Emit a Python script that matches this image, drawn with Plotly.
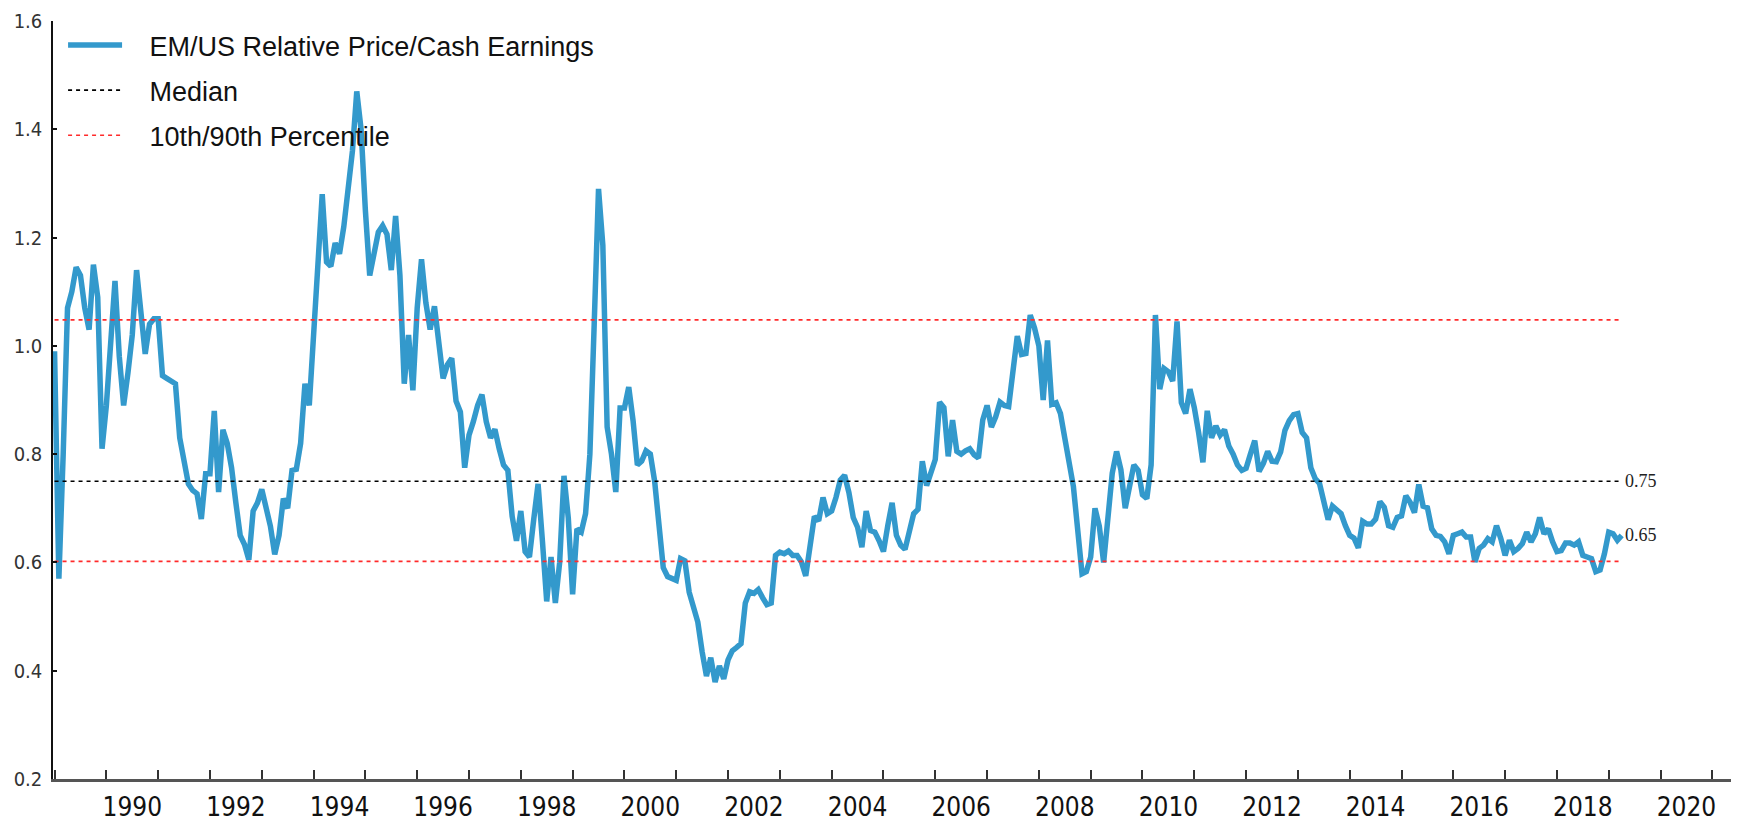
import plotly.graph_objects as go

# ---------------- data ----------------
START_YEAR = 1988
START_MONTH = 7  # first monthly observation: July 1988

# EM/US relative price / cash earnings, monthly
RATIO = [
    0.99, 0.57, 0.80, 1.07, 1.10, 1.145, 1.13, 1.07, 1.03, 1.15, 1.09, 0.81,
    0.89, 0.99, 1.12, 0.98, 0.89, 0.95, 1.02, 1.14, 1.06, 0.985, 1.04, 1.05,
    1.05, 0.945, 0.94, 0.935, 0.93, 0.83, 0.79, 0.745, 0.733, 0.727, 0.68, 0.764,
    0.764, 0.88, 0.73, 0.845, 0.82, 0.775, 0.71, 0.65, 0.633, 0.605, 0.695, 0.71,
    0.735, 0.705, 0.667, 0.615, 0.65, 0.718, 0.70, 0.77, 0.772, 0.82, 0.93, 0.89,
    1.03, 1.16, 1.28, 1.155, 1.147, 1.19, 1.17, 1.22, 1.30, 1.36, 1.47, 1.40,
    1.25, 1.13, 1.17, 1.21, 1.222, 1.206, 1.14, 1.24, 1.13, 0.93, 1.02, 0.918,
    1.07, 1.16, 1.08, 1.03, 1.073, 1.0, 0.94, 0.965, 0.977, 0.898, 0.878, 0.775,
    0.835, 0.86, 0.89, 0.91, 0.86, 0.83, 0.846, 0.81, 0.78, 0.77, 0.685, 0.64,
    0.695, 0.62, 0.61, 0.68, 0.745, 0.64, 0.528, 0.61, 0.525, 0.60, 0.76, 0.682,
    0.541, 0.662, 0.656, 0.69, 0.80, 1.04, 1.29, 1.186, 0.85, 0.80, 0.73, 0.885,
    0.885, 0.924, 0.862, 0.78, 0.787, 0.806, 0.80, 0.75, 0.655, 0.59, 0.574, 0.57,
    0.567, 0.607, 0.603, 0.545, 0.518, 0.49, 0.435, 0.39, 0.424, 0.379, 0.409, 0.385,
    0.42, 0.437, 0.443, 0.45, 0.525, 0.546, 0.543, 0.55, 0.535, 0.522, 0.525, 0.613,
    0.619, 0.616, 0.621, 0.613, 0.613, 0.601, 0.575, 0.631, 0.685, 0.677, 0.72, 0.69,
    0.695, 0.72, 0.752, 0.761, 0.729, 0.683, 0.665, 0.628, 0.695, 0.659, 0.656, 0.64,
    0.62, 0.668, 0.71, 0.65, 0.632, 0.624, 0.66, 0.69, 0.698, 0.787, 0.742, 0.765,
    0.79, 0.896, 0.886, 0.796, 0.863, 0.805, 0.80, 0.806, 0.81, 0.799, 0.793, 0.863,
    0.89, 0.85, 0.869, 0.896, 0.89, 0.888, 0.95, 1.018, 0.984, 0.986, 1.057, 1.033,
    1.0, 0.90, 1.01, 0.892, 0.895, 0.875, 0.83, 0.78, 0.74, 0.66, 0.579, 0.583,
    0.61, 0.70, 0.667, 0.60, 0.69, 0.765, 0.805, 0.771, 0.70, 0.745, 0.78, 0.77,
    0.725, 0.718, 0.78, 1.057, 0.92, 0.958, 0.952, 0.935, 1.045, 0.895, 0.875, 0.92,
    0.886, 0.84, 0.785, 0.88, 0.83, 0.852, 0.835, 0.845, 0.815, 0.80, 0.78, 0.77,
    0.774, 0.80, 0.825, 0.768, 0.783, 0.805, 0.787, 0.786, 0.804, 0.844, 0.862, 0.873,
    0.875, 0.84, 0.83, 0.775, 0.755, 0.746, 0.71, 0.679, 0.704, 0.698, 0.69, 0.668,
    0.65, 0.645, 0.627, 0.676, 0.671, 0.671, 0.68, 0.712, 0.702, 0.668, 0.665, 0.683,
    0.686, 0.723, 0.711, 0.692, 0.744, 0.704, 0.701, 0.662, 0.65, 0.648, 0.638, 0.616,
    0.65, 0.653, 0.656, 0.647, 0.647, 0.601, 0.626, 0.632, 0.644, 0.638, 0.668, 0.644,
    0.613, 0.641, 0.62, 0.626, 0.635, 0.656, 0.638, 0.653, 0.683, 0.653, 0.662, 0.638,
    0.62, 0.622, 0.636, 0.636, 0.632, 0.638, 0.613, 0.61, 0.607, 0.583, 0.586, 0.616,
    0.656, 0.653, 0.641, 0.65,
]

MEDIAN = 0.75
P10 = 0.602
P90 = 1.048
MEDIAN_LABEL = "0.75"
LAST_LABEL = "0.65"

SERIES_NAME = "EM/US Relative Price/Cash Earnings"
MEDIAN_NAME = "Median"
PCT_NAME = "10th/90th Percentile"

X_LABEL_YEARS = list(range(1990, 2021, 2))
X_TICK_MARKS = [y + 0.5 for y in range(1988, 2021)]
Y_TICKS = [0.2, 0.4, 0.6, 0.8, 1.0, 1.2, 1.4, 1.6]
X_RANGE = [1988.47, 2020.86]
Y_RANGE = [0.2, 1.6]

# ---------------- figure ----------------
x = [START_YEAR + (START_MONTH - 1 + i) / 12 for i in range(len(RATIO))]
x0, x1 = x[0], x[-1]

BLUE = "#3399cc"
RED = "#ff2b2b"
NARROW = "Liberation Sans Narrow, Arial Narrow, DejaVu Sans Condensed, sans-serif"
SANS = "Liberation Sans, Arial, sans-serif"
SERIF = "Liberation Serif, Times New Roman, serif"
PAD = "\u00a0\u00a0\u00a0"  # gap between legend symbol and text

fig = go.Figure()
fig.add_trace(go.Scatter(x=x, y=RATIO, mode="lines", name=PAD + SERIES_NAME,
                         line=dict(color=BLUE, width=5.5), legendgroup="a"))
fig.add_trace(go.Scatter(x=[x0, x1], y=[MEDIAN, MEDIAN], mode="lines", name=PAD + MEDIAN_NAME,
                         line=dict(color="black", width=1.6, dash="4px,4px"), legendgroup="b"))
fig.add_trace(go.Scatter(x=[x0, x1], y=[P90, P90], mode="lines", name=PAD + PCT_NAME,
                         line=dict(color=RED, width=1.6, dash="4px,4px"), legendgroup="c"))
fig.add_trace(go.Scatter(x=[x0, x1], y=[P10, P10], mode="lines", name=PAD + PCT_NAME,
                         line=dict(color=RED, width=1.6, dash="4px,4px"), legendgroup="c",
                         showlegend=False))

fig.add_annotation(x=x1, y=MEDIAN, text=MEDIAN_LABEL, showarrow=False, xanchor="left",
                   yanchor="middle", xshift=1, font=dict(family=SERIF, size=18, color="#222"))
fig.add_annotation(x=x1, y=RATIO[-1], text=LAST_LABEL, showarrow=False, xanchor="left",
                   yanchor="middle", xshift=1, font=dict(family=SERIF, size=18, color="#222"))

fig.update_layout(
    width=1740, height=831,
    margin=dict(l=53, r=9, t=20, b=42),
    plot_bgcolor="white", paper_bgcolor="white",
    showlegend=True,
    legend=dict(x=0.006, y=1.0, xanchor="left", yanchor="top",
                font=dict(family=SANS, size=27, color="#111"),
                itemwidth=54, traceorder="grouped", tracegroupgap=7,
                bgcolor="rgba(0,0,0,0)"),
    xaxis=dict(range=X_RANGE, showgrid=False, zeroline=False,
               showline=True, linecolor="#555", linewidth=3,
               tickmode="array", tickvals=X_LABEL_YEARS,
               ticktext=[str(v) for v in X_LABEL_YEARS], ticks="",
               ticklabelstandoff=3,
               tickfont=dict(family=NARROW, size=26, color="#111"),
               minor=dict(tickmode="array", tickvals=X_TICK_MARKS, ticks="inside",
                          ticklen=9, tickwidth=1.5, tickcolor="#333", showgrid=False)),
    yaxis=dict(range=Y_RANGE, showgrid=False, zeroline=False,
               showline=True, linecolor="#111", linewidth=1.5,
               tickmode="array", tickvals=Y_TICKS,
               ticktext=[f"{v:.1f}" for v in Y_TICKS],
               ticks="inside", ticklen=4, tickwidth=1.5, tickcolor="#111",
               ticklabelstandoff=5,
               tickfont=dict(family=NARROW, size=20, color="#333")),
)

fig.write_html("out.html", config={"displayModeBar": False},
               post_script="document.body.style.margin='0';document.body.style.overflow='hidden';")
